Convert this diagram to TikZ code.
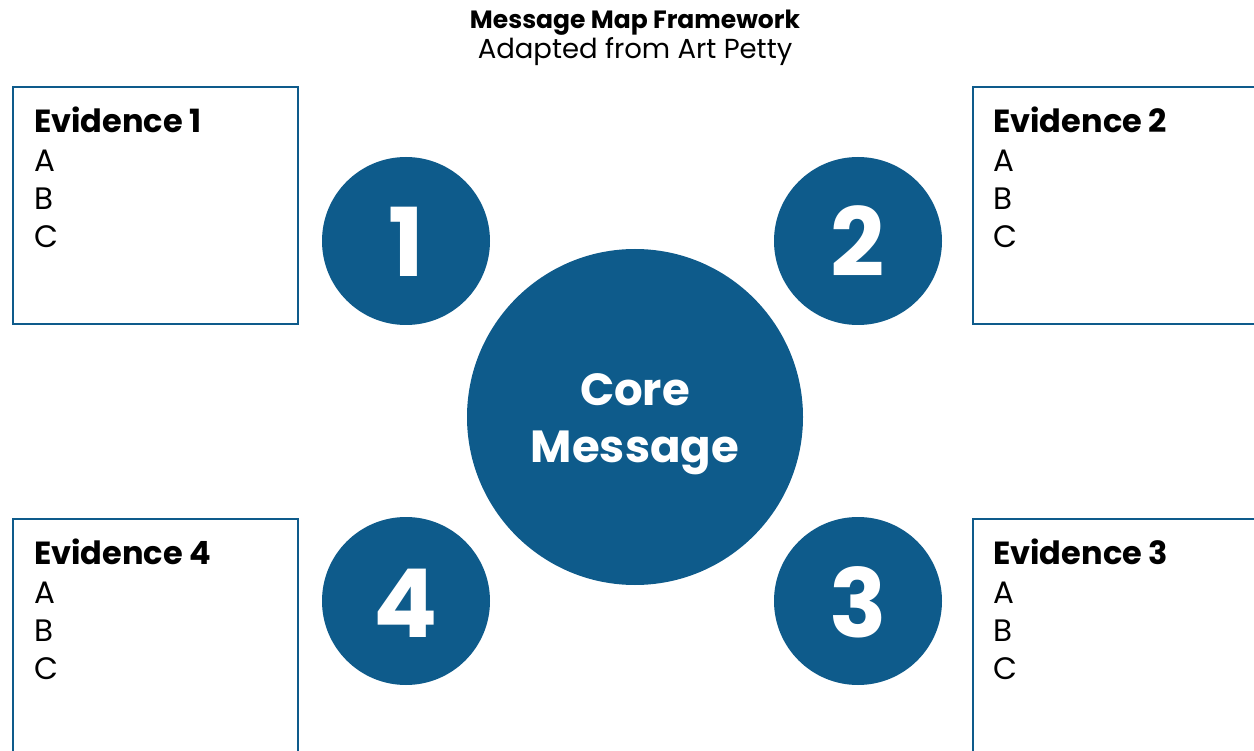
\documentclass[tikz,border=0pt]{standalone}
\usepackage{fontspec}
\setmainfont{Poppins}
\definecolor{mapblue}{HTML}{0E5B8B}
\begin{document}
\begin{tikzpicture}[x=1pt,y=-1pt,
  evbox/.style={draw=mapblue, line width=2.8pt, fill=white, inner sep=0pt, outer sep=0pt},
  disc/.style={circle, fill=mapblue, inner sep=0pt, outer sep=0pt},
  evhead/.style={anchor=base west, inner sep=0pt, font=\fontsize{32}{38}\selectfont\bfseries},
  evitem/.style={anchor=base west, inner sep=0pt, font=\fontsize{31}{38}\selectfont},
  numtxt/.style={anchor=base, inner sep=0pt, text=white, font=\fontsize{95}{95}\selectfont\bfseries},
  coretxt/.style={anchor=base, inner sep=0pt, text=white, font=\fontsize{45}{45}\selectfont\bfseries},
  titletxt/.style={anchor=base, inner sep=0pt, font=\fontsize{25}{25}\selectfont\bfseries},
  subtxt/.style={anchor=base, inner sep=0pt, font=\fontsize{27.5}{27.5}\selectfont}]
\useasboundingbox (0,0) rectangle (1254,751);
\clip (0,0) rectangle (1254,751);

% title
\node[titletxt] (title) at (635,29) {Message Map Framework};
\node[subtxt] (subtitle) at (635,59) {Adapted from Art Petty};

% evidence boxes
\node[evbox, minimum width=285, minimum height=237] (box1) at (155.5,205.5) {};
\node[evbox, minimum width=300, minimum height=237] (box2) at (1123,205.5) {};
\node[evbox, minimum width=300, minimum height=260] (box3) at (1123,649) {};
\node[evbox, minimum width=285, minimum height=260] (box4) at (155.5,649) {};

% box texts
\node[evhead] (h1) at (34,133) {Evidence 1};
\node[evitem] (a1) at (34,172) {A};
\node[evitem] (b1) at (34,210) {B};
\node[evitem] (c1) at (34,248) {C};

\node[evhead] (h2) at (993,133) {Evidence 2};
\node[evitem] (a2) at (993,172) {A};
\node[evitem] (b2) at (993,210) {B};
\node[evitem] (c2) at (993,248) {C};

\node[evhead] (h3) at (993,564) {Evidence 3};
\node[evitem] (a3) at (993,603) {A};
\node[evitem] (b3) at (993,641) {B};
\node[evitem] (c3) at (993,679) {C};

\node[evhead] (h4) at (34,564) {Evidence 4};
\node[evitem] (a4) at (34,603) {A};
\node[evitem] (b4) at (34,641) {B};
\node[evitem] (c4) at (34,679) {C};

% numbered discs
\node[disc, minimum size=168] (d1) at (406,241) {};
\node[disc, minimum size=168] (d2) at (858,241) {};
\node[disc, minimum size=168] (d3) at (858,601) {};
\node[disc, minimum size=168] (d4) at (406,601) {};
\node[numtxt] (n1) at (406,277) {1};
\node[numtxt] (n2) at (858,277) {2};
\node[numtxt] (n3) at (858,637) {3};
\node[numtxt] (n4) at (406,637) {4};

% core message
\node[disc, minimum size=336] (core) at (635,417) {};
\node[coretxt] (core1) at (635,406) {Core};
\node[coretxt] (core2) at (635,463) {Message};
\end{tikzpicture}
\end{document}
